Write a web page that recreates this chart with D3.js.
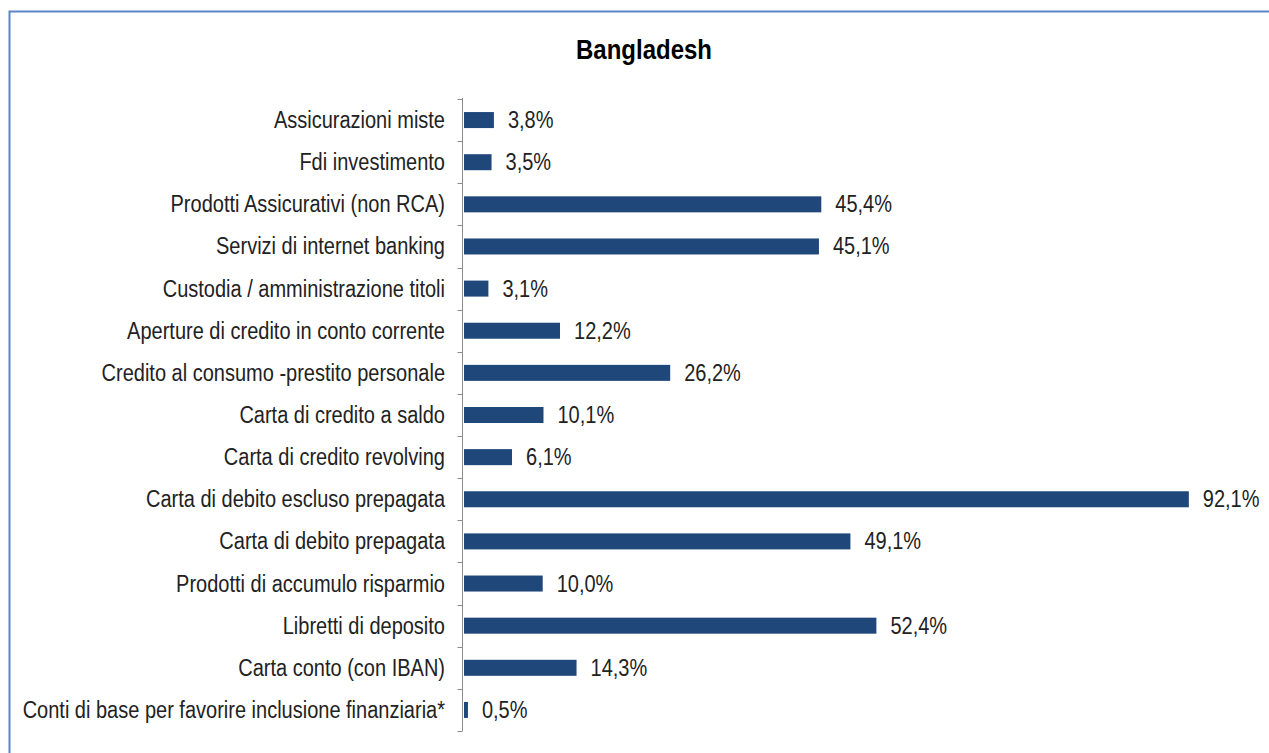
<!DOCTYPE html>
<html>
<head>
<meta charset="utf-8">
<script src="https://cdn.jsdelivr.net/npm/d3@7"></script>
<style>
  body { margin: 0; background: #fff; }
  svg { display: block; }
</style>
</head>
<body>
<div id="chart"></div>
<script>
// Categorie e valori (in %)
const categories = [
    "Assicurazioni miste",
    "Fdi investimento",
    "Prodotti Assicurativi (non RCA)",
    "Servizi di internet banking",
    "Custodia / amministrazione titoli",
    "Aperture di credito in conto corrente",
    "Credito al consumo -prestito personale",
    "Carta di credito a saldo",
    "Carta di credito revolving",
    "Carta di debito escluso prepagata",
    "Carta di debito prepagata",
    "Prodotti di accumulo risparmio",
    "Libretti di deposito",
    "Carta conto (con IBAN)",
    "Conti di base per favorire inclusione finanziaria*"
];
const values = [3.8, 3.5, 45.4, 45.1, 3.1, 12.2, 26.2, 10.1, 6.1, 92.1, 49.1, 10.0, 52.4, 14.3, 0.5];
const title = "Bangladesh";

const width = 1269, height = 753;
const font = "Liberation Sans, Arial, sans-serif";
const stretch = 1.15; // testo un po' allungato in verticale

const svg = d3.select("#chart").append("svg")
    .attr("width", width)
    .attr("height", height);

// cornice blu
svg.append("rect")
    .attr("x", 9.5).attr("y", 11.5)
    .attr("width", width + 20).attr("height", height + 20)
    .attr("fill", "none")
    .attr("stroke", "#5b85c4")
    .attr("stroke-width", 2);

svg.append("text")
    .attr("transform", `translate(644,59) scale(1,${stretch})`)
    .attr("text-anchor", "middle")
    .style("font-family", font)
    .style("font-size", "24px")
    .style("font-weight", "bold")
    .attr("fill", "#000")
    .text(title);

const x = d3.scaleLinear().domain([0, 100]).range([464, 1251]);
const y = d3.scaleBand().domain(categories).range([99, 731]).paddingInner(0.62).paddingOuter(0.31);

// asse verticale con tacche tra le categorie
const axisX = 462.5;
svg.append("line")
    .attr("x1", axisX).attr("x2", axisX)
    .attr("y1", 98).attr("y2", 731)
    .attr("stroke", "#8c8c8c");
const bounds = d3.range(categories.length + 1).map(i => 99 + i * y.step());
svg.selectAll(".tick")
    .data(bounds)
    .join("line")
    .attr("x1", axisX - 5).attr("x2", axisX)
    .attr("y1", d => Math.round(d) + 0.5).attr("y2", d => Math.round(d) + 0.5)
    .attr("stroke", "#8c8c8c");

const data = categories.map((c, i) => ({ c, v: values[i] }));

svg.selectAll(".bar")
    .data(data)
    .join("rect")
    .attr("x", x(0))
    .attr("y", d => y(d.c))
    .attr("width", d => x(d.v) - x(0))
    .attr("height", y.bandwidth())
    .attr("fill", "#1f477a");

const midY = d => y(d.c) + y.bandwidth() / 2 + 8;

svg.selectAll(".cat")
    .data(data)
    .join("text")
    .attr("transform", d => `translate(445,${midY(d)}) scale(1,${stretch})`)
    .attr("text-anchor", "end")
    .style("font-family", font)
    .style("font-size", "20px")
    .attr("fill", "#222")
    .text(d => d.c);

svg.selectAll(".val")
    .data(data)
    .join("text")
    .attr("transform", d => `translate(${x(d.v) + 14},${midY(d)}) scale(1,${stretch})`)
    .style("font-family", font)
    .style("font-size", "20px")
    .attr("fill", "#222")
    .text(d => d3.format(".1f")(d.v).replace(".", ",") + "%");
</script>
</body>
</html>
